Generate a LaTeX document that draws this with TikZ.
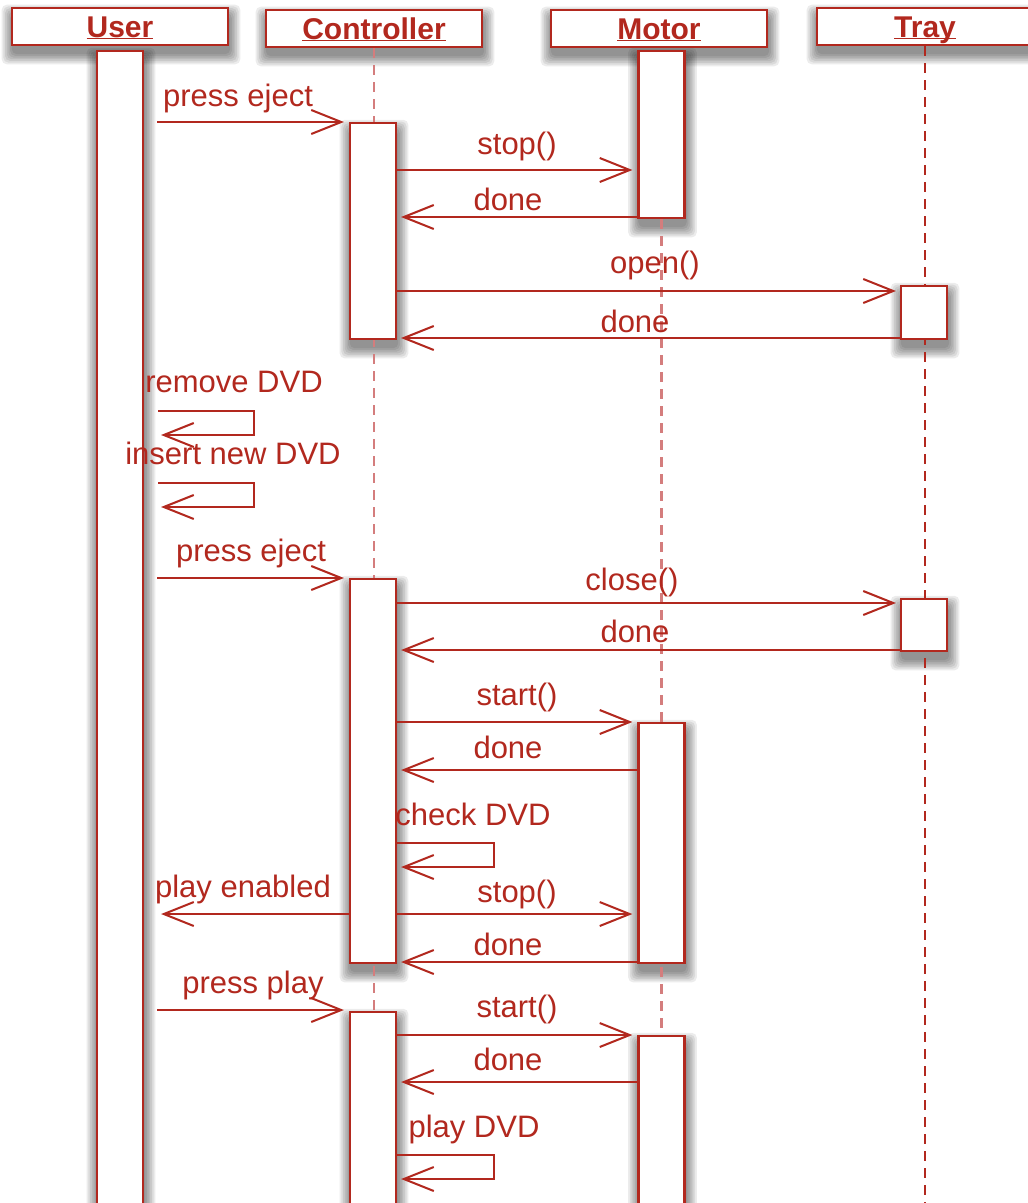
\documentclass[tikz,border=0pt]{standalone}
\usepackage{fontspec}
\setmainfont{Liberation Sans}
\usetikzlibrary{arrows.meta,calc}
\pgfdeclarelayer{shadowlayer}
\pgfdeclarelayer{lifelayer}
\pgfsetlayers{shadowlayer,lifelayer,main}
\definecolor{dred}{RGB}{178,40,30}
\definecolor{lred}{RGB}{212,125,125}
\newcommand{\softshadow}[1]{%
  \foreach \k in {0,...,6}{%
    \fill[black,opacity=0.075,rounded corners=5pt]
      ($(#1.south west)+({1-1.7*\k},{8+1.7*\k})$) rectangle
      ($(#1.north east)+({1+1.7*\k},{8-1.7*\k})$);}}
\newcommand{\hdr}[1]{\underline{\smash{#1}}}
\begin{document}
\begin{tikzpicture}[x=1pt,y=-1pt,
  header/.style={draw=dred,fill=white,line width=2.2pt,minimum width=216pt,
    minimum height=37pt,inner sep=0pt,text=dred,text height=24pt,text depth=3pt,
    font=\bfseries\fontsize{30}{30}\selectfont},
  act/.style={draw=dred,fill=white,line width=2.2pt,minimum width=46pt,inner sep=0pt},
  lbl/.style={text=dred,anchor=base,inner sep=0pt,font=\fontsize{31}{31}\selectfont},
  msg/.style={draw=dred,line width=2pt,
    -{Straight Barb[length=30pt,width=24pt,line width=2pt]}},
  lifepink/.style={draw=lred,line width=2.6pt,dash pattern=on 10pt off 7pt},
  lifered/.style={draw=dred,line width=2.2pt,dash pattern=on 10pt off 7pt}]
\useasboundingbox (0,0) rectangle (1028,1203);

% headers
\node[header] (hu) at (120,26.5) {\hdr{User}};
\node[header] (hc) at (374,28.5) {\hdr{Controller}};
\node[header] (hm) at (659,28.5) {\hdr{Motor}};
\node[header] (ht) at (925,26.5) {\hdr{Tray}};

% activation boxes
\node[act,minimum height=1165pt,anchor=north] (u1) at (120,50) {};
\node[act,minimum height=216pt,anchor=north] (c1) at (373,122) {};
\node[act,minimum height=384pt,anchor=north] (c2) at (373,578) {};
\node[act,minimum height=205pt,anchor=north] (c3) at (373,1011) {};
\node[act,minimum height=167pt,anchor=north] (m1) at (661.5,50) {};
\node[act,minimum height=240pt,anchor=north] (m2) at (661.5,722) {};
\node[act,minimum height=180pt,anchor=north] (m3) at (661.5,1035) {};
\node[act,minimum height=53pt,anchor=north] (t1) at (924,285) {};
\node[act,minimum height=52pt,anchor=north] (t2) at (924,598) {};

% lifelines
\begin{pgfonlayer}{lifelayer}
\draw[lifepink] (hc.south) -- (hc.south |- 0,1210);
\draw[lifepink] (m1.south) -- (m1.south |- 0,1210);
\draw[lifered] (ht.south) -- (ht.south |- 0,1210);
\end{pgfonlayer}

% shadows
\begin{pgfonlayer}{shadowlayer}
\fill[white] (0,0) rectangle (1028,1203);
\softshadow{hu}\softshadow{hc}\softshadow{hm}\softshadow{ht}
\softshadow{u1}\softshadow{c1}\softshadow{c2}\softshadow{c3}
\softshadow{m1}\softshadow{m2}\softshadow{m3}\softshadow{t1}\softshadow{t2}
\end{pgfonlayer}

% messages
\draw[msg] ($(u1.east|-0,122)+(13,0)$) -- ($(c1.west|-0,122)+(-5,0)$);
\node[lbl] at (238,106) {press eject};
\draw[msg] (c1.east|-0,170) -- ($(m1.west|-0,170)+(-5,0)$);
\node[lbl] at (517,154) {stop()};
\draw[msg] (m1.west|-0,217) -- ($(c1.east|-0,217)+(4,0)$);
\node[lbl] at (508,210) {done};
\draw[msg] (c1.east|-0,291) -- ($(t1.west|-0,291)+(-4,0)$);
\node[lbl] at (655,273) {open()};
\draw[msg] (t1.west|-0,338) -- ($(c1.east|-0,338)+(4,0)$);
\node[lbl] at (635,332) {done};

\draw[msg] ($(u1.east|-0,411)+(14,0)$) -- ++(96,0) -- ++(0,24) -- ++(-93,0);
\node[lbl] at (234,392) {remove DVD};
\draw[msg] ($(u1.east|-0,483)+(14,0)$) -- ++(96,0) -- ++(0,24) -- ++(-93,0);
\node[lbl] at (233,464) {insert new DVD};

\draw[msg] ($(u1.east|-0,578)+(13,0)$) -- ($(c2.west|-0,578)+(-5,0)$);
\node[lbl] at (251,561) {press eject};
\draw[msg] (c2.east|-0,603) -- ($(t2.west|-0,603)+(-4,0)$);
\node[lbl] at (632,590) {close()};
\draw[msg] (t2.west|-0,650) -- ($(c2.east|-0,650)+(4,0)$);
\node[lbl] at (635,642) {done};
\draw[msg] (c2.east|-0,722) -- ($(m2.west|-0,722)+(-5,0)$);
\node[lbl] at (517,705) {start()};
\draw[msg] (m2.west|-0,770) -- ($(c2.east|-0,770)+(4,0)$);
\node[lbl] at (508,758) {done};
\draw[msg] (c2.east|-0,843) -- ++(97,0) -- ++(0,24) -- ++(-93,0);
\node[lbl] at (473,825) {check DVD};
\draw[msg] (c2.west|-0,914) -- ($(u1.east|-0,914)+(17,0)$);
\node[lbl] at (243,897) {play enabled};
\draw[msg] (c2.east|-0,914) -- ($(m2.west|-0,914)+(-5,0)$);
\node[lbl] at (517,902) {stop()};
\draw[msg] (m2.west|-0,962) -- ($(c2.east|-0,962)+(4,0)$);
\node[lbl] at (508,955) {done};

\draw[msg] ($(u1.east|-0,1010)+(13,0)$) -- ($(c3.west|-0,1010)+(-5,0)$);
\node[lbl] at (253,993) {press play};
\draw[msg] (c3.east|-0,1035) -- ($(m3.west|-0,1035)+(-5,0)$);
\node[lbl] at (517,1017) {start()};
\draw[msg] (m3.west|-0,1082) -- ($(c3.east|-0,1082)+(4,0)$);
\node[lbl] at (508,1070) {done};
\draw[msg] (c3.east|-0,1155) -- ++(97,0) -- ++(0,24) -- ++(-93,0);
\node[lbl] at (474,1137) {play DVD};
\end{tikzpicture}
\end{document}
